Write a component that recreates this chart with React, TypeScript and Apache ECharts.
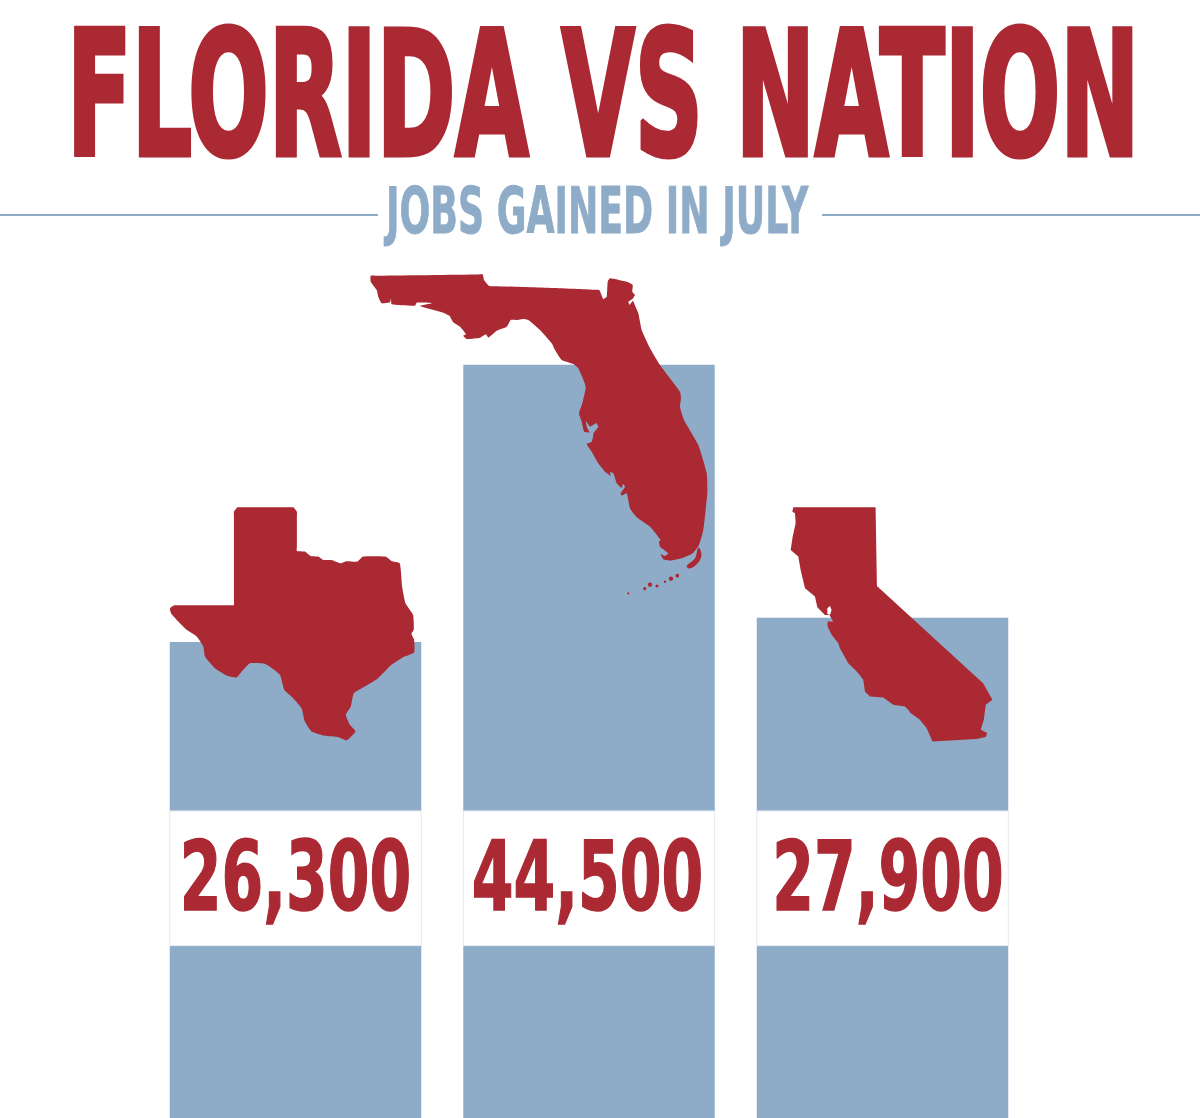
import React, { useEffect, useRef } from "react";
import * as echarts from "echarts";

const states = ["Texas", "Florida", "California"];
const jobsGained = [26300, 44500, 27900];
const jobLabels = ["26,300", "44,500", "27,900"];
const belowZero = [-4920, -4920, -4920];
const titleText = "FLORIDA VS NATION";
const subtitleText = "JOBS GAINED IN JULY";
const labelShift = [0, -1.5, 5.5];

const RED = "#ab2933";
const BLUE = "#8eacc8";
const LABEL_FONT = '"DejaVu Sans Condensed", "DejaVu Sans", sans-serif';

const texasOutline = [[207,35],[218,22],[235,22],[370,22],[385,22],[396,35],[396,50],[396,140],[396,153],[420,155],[437,168],[460,170],[475,180],[500,180],[527,190],[545,184],[578,185],[595,170],[662,170],[680,183],[705,190],[712,260],[722,310],[745,345],[747,390],[740,402],[748,420],[748,458],[715,472],[680,495],[640,535],[600,560],[567,580],[558,620],[543,645],[555,675],[572,695],[545,722],[520,712],[480,708],[440,695],[420,665],[410,625],[385,595],[358,570],[345,525],[300,492],[255,490],[235,510],[215,533],[185,527],[150,505],[120,470],[115,440],[95,410],[65,390],[40,365],[18,340],[15,325],[28,316],[40,316],[195,316],[207,316],[207,304],[207,50]];

const floridaOutline = [[370.7,275.7],[375,275.65],[478,274.4],[482.7,274.3],[484,280],[489.3,286],[495,286.2],[560,288.3],[595,289.8],[599.3,290],[603.3,299],[606.7,296.7],[607.7,281.7],[610,278.3],[628.3,282.3],[632.7,285],[632.3,291.7],[635,295],[632.7,299.3],[638.3,313.3],[641.7,330],[650,348.3],[660,365],[680,391.7],[681,398.3],[680,406.7],[684,420],[698.3,445],[706.7,473],[707.3,493],[703.3,530],[699,545],[692.7,553.3],[681.7,558.3],[670,560.7],[663.3,559.3],[660.7,554],[665,556],[668.3,553.3],[660,546.7],[659,541.7],[660.7,540],[650,526.7],[636.7,517.3],[630,508.3],[626.7,493.3],[621.7,495.7],[620.7,493.3],[625,486.7],[623,484],[621.7,488],[616.7,483.3],[613.3,473.3],[610,472],[610.7,475.7],[605,471.7],[598.3,463.3],[591.7,451.7],[586.7,444],[591.7,441.7],[593.3,433.3],[584.3,431.7],[581.7,421.7],[579,413.3],[582.3,403.3],[585.7,386.7],[578.3,368.3],[573.3,364],[561.7,360],[555,350],[551.7,343.3],[540,330],[528.3,320],[523.3,319],[516.7,320],[510.7,320],[506.7,326.7],[496.7,330.7],[488.3,337.7],[486,334.3],[480,337.7],[466.7,339],[463.3,335.7],[466,334.3],[460,326.7],[453.3,322.3],[447.3,310.7],[451.7,316.7],[443.3,312.7],[420,306],[431.7,303.3],[416.7,302.7],[415,305.7],[391.7,304.3],[391,298.3],[390,302.3],[381.7,303.3],[378.3,296.7],[376.7,290],[370.7,281.7]];
const floridaBay = [[585.7,420.7],[590,426.7],[596.7,423],[598.3,427],[593.3,433.3],[590,433.3],[586.7,427]];
const floridaInlet = [[628.3,301.7],[629.3,305],[632.7,301],[636,300.7],[634,298]];
const floridaCrescent = [[698.3,547.5],[701.5,555],[697,564],[689.3,568.5],[686.7,566],[695,558.3]];
const floridaKeys = [[628.3,593.3,1],[644.7,588.7,1.6],[650,584.7,2.2],[657,586,1.5],[665,581.7,1.2],[671,578.7,2.2],[677.3,575.7,1.9]];

const californiaOutline = [[40,22],[287,22],[291,258],[610,550],[638,600],[618,615],[612,660],[603,690],[622,700],[618,712],[590,718],[458,725],[440,685],[420,660],[392,640],[385,630],[375,620],[340,615],[310,593],[270,590],[255,575],[250,540],[235,520],[225,510],[205,490],[180,445],[175,430],[155,405],[143,380],[143,365],[160,365],[148,345],[135,345],[112,322],[105,290],[75,265],[62,210],[55,170],[32,150],[38,110],[47,70],[45,40],[37,35]];
const californiaBayWhite = [[142,325],[150,318],[155,330],[150,345],[142,342]];

function poly(points: number[][], fill: string, smooth = 0) {
  return { type: "polygon", z: 10, shape: { points, smooth }, style: { fill } };
}

export default function App() {
  const ref = useRef<HTMLDivElement>(null);
  useEffect(() => {
    const chart = echarts.init(ref.current!, undefined, { renderer: "svg" });
    chart.setOption({
      animation: false,
      backgroundColor: "#ffffff",
      grid: { left: 148.75, width: 880.5, top: 0, height: 1118, containLabel: false },
      xAxis: { type: "category", data: states, show: false },
      yAxis: { type: "value", min: -4920, max: 68422, show: false, splitLine: { show: false } },
      series: [
        {
          type: "bar",
          name: "Jobs gained",
          data: jobsGained,
          barWidth: 251.5,
          barGap: "-100%",
          itemStyle: { color: BLUE },
          z: 2,
        },
        {
          type: "bar",
          name: "Below zero",
          data: belowZero,
          barWidth: 251.5,
          itemStyle: { color: BLUE },
          z: 2,
        },
        {
          type: "custom",
          name: "Labels",
          data: jobLabels.map((_, i) => [i, 10804]),
          encode: { x: 0, y: 1 },
          z: 5,
          renderItem: (params: any, api: any) => {
            const [cx, cy] = api.coord([api.value(0), api.value(1)]);
            const h = api.size([0, 8830])[1];
            return {
              type: "group",
              children: [
                {
                  type: "rect",
                  shape: { x: cx - 125.75, y: cy - h / 2, width: 251.5, height: h },
                  style: { fill: "#ffffff", stroke: "#e8edf3", lineWidth: 1 },
                },
                {
                  type: "text",
                  x: cx + labelShift[params.dataIndex],
                  y: cy - 1.5,
                  scaleX: 0.68,
                  scaleY: 0.99,
                  style: {
                    text: jobLabels[params.dataIndex],
                    fill: RED,
                    stroke: RED,
                    lineWidth: 1.5,
                    font: `bold 98px ${LABEL_FONT}`,
                    align: "center",
                    verticalAlign: "middle",
                  },
                },
              ],
            };
          },
        },
      ],
      graphic: {
        z: 10,
        elements: [
          {
            type: "text",
            z: 10,
            x: 67,
            y: 95,
            scaleX: 1.052,
            scaleY: 1.725,
            style: {
              text: titleText,
              fill: RED,
              stroke: RED,
              lineWidth: 3,
              lineHeight: 84,
              font: `bold 100px ${LABEL_FONT}`,
              align: "left",
              verticalAlign: "middle",
            },
          },
          {
            type: "text",
            z: 10,
            x: 386,
            y: 211,
            scaleX: 0.84,
            scaleY: 1.35,
            style: {
              text: subtitleText,
              fill: BLUE,
              stroke: BLUE,
              lineWidth: 0.6,
              font: `bold 48px ${LABEL_FONT}`,
              align: "left",
              verticalAlign: "middle",
            },
          },
          { type: "rect", z: 10, shape: { x: 0, y: 214, width: 378, height: 2 }, style: { fill: BLUE } },
          { type: "rect", z: 10, shape: { x: 822, y: 214, width: 378, height: 2 }, style: { fill: BLUE } },
          {
            type: "group",
            z: 10,
            x: 165,
            y: 500,
            scaleX: 1 / 3,
            scaleY: 1 / 3,
            children: [poly(texasOutline, RED, 0.15)],
          },
          poly(floridaOutline, RED, 0.15),
          poly(floridaBay, BLUE),
          poly(floridaInlet, "#ffffff"),
          poly(floridaCrescent, RED, 0.4),
          ...floridaKeys.map(([cx, cy, r]) => ({
            type: "circle",
            z: 10,
            shape: { cx, cy, r },
            style: { fill: RED },
          })),
          {
            type: "group",
            z: 10,
            x: 780,
            y: 500,
            scaleX: 1 / 3,
            scaleY: 1 / 3,
            children: [poly(californiaOutline, RED), poly(californiaBayWhite, "#ffffff")],
          },
        ],
      },
    });
    return () => chart.dispose();
  }, []);
  return (
    <div
      ref={ref}
      style={{ position: "absolute", left: 0, top: 0, width: 1200, height: 1118 }}
    />
  );
}
